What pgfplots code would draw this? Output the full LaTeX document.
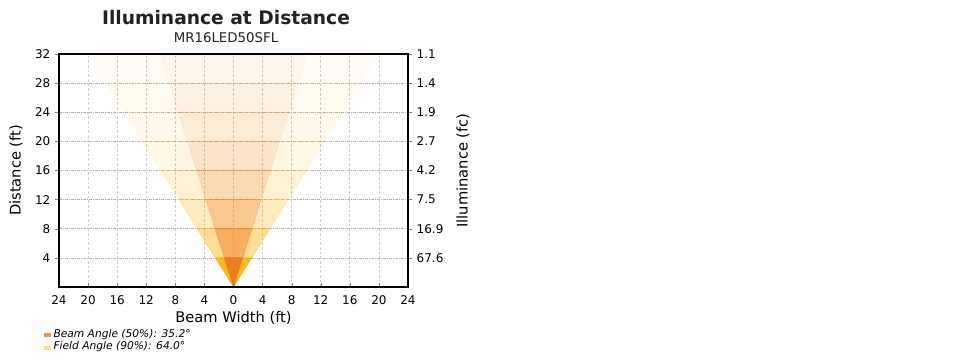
\documentclass[border=0pt]{standalone}
\usepackage{pgfplots}
\pgfplotsset{compat=1.18}
\usepackage{fontspec}
\setmainfont{DejaVu Sans}
\definecolor{fieldc}{HTML}{FFB000}
\definecolor{beamc}{HTML}{EC7722}
\definecolor{txt}{HTML}{222222}
\begin{document}
\begin{tikzpicture}[x=0.75pt,y=0.75pt]
\useasboundingbox (0,0) rectangle (960,360);
\pgfplotsset{
  common/.style={
    at={(44.25pt,54.75pt)}, anchor=south west,
    scale only axis, width=261.75pt, height=174.75pt,
    xmin=-24, xmax=24, ymin=0, ymax=32,
    xtick={-24,-20,...,24}, ytick={4,8,...,32},
    major tick length=3pt,
    /pgf/number format/assume math mode=true,
    tick label style={font=\fontsize{9}{10}\selectfont},
    axis line style={line width=1.1pt},
    clip=false,
  }
}
\begin{axis}[common,
  tick align=outside, ytick pos=left, xtick pos=bottom,
  xtick style={draw=none},
  xticklabels={24,20,16,12,8,4,0,4,8,12,16,20,24},
  grid=major,
  x grid style={gray!40, line width=0.5pt, dash pattern=on 2pt off 1.5pt},
  y grid style={gray!60, line width=0.5pt, dash pattern=on 2pt off 1pt on 0.5pt off 1pt},
  xlabel={Beam Width (ft)}, ylabel={Distance (ft)},
  label style={font=\fontsize{11}{13}\selectfont},
  xlabel style={at={(axis description cs:0.5,-0.133)}, anchor=center},
  ylabel style={at={(axis description cs:-0.123,0.5)}, anchor=center},
  legend style={at={(axis description cs:-0.045,-0.168)}, anchor=north west,
    draw=none, fill=none, font=\fontsize{8}{9}\selectfont\itshape,
    row sep=-2.5pt, inner sep=0pt},
  legend cell align=left,
  legend image code/.code={\fill[#1] (0pt,-2.5pt) rectangle (5.5pt,0.5pt);},
]
% Field angle bands (64.0 deg)
\addplot[forget plot, fill=fieldc, draw=fieldc, line width=0.4pt, opacity=0.9] coordinates {(0,0) (2.4995,4) (-2.4995,4)} -- cycle;
\addplot[forget plot, fill=fieldc, draw=fieldc, line width=0.4pt, opacity=0.42] coordinates {(-2.4995,4) (2.4995,4) (4.9990,8) (-4.9990,8)} -- cycle;
\addplot[forget plot, fill=fieldc, draw=fieldc, line width=0.4pt, opacity=0.26] coordinates {(-4.9990,8) (4.9990,8) (7.4984,12) (-7.4984,12)} -- cycle;
\addplot[forget plot, fill=fieldc, draw=fieldc, line width=0.4pt, opacity=0.17] coordinates {(-7.4984,12) (7.4984,12) (9.9979,16) (-9.9979,16)} -- cycle;
\addplot[forget plot, fill=fieldc, draw=fieldc, line width=0.4pt, opacity=0.11] coordinates {(-9.9979,16) (9.9979,16) (12.4974,20) (-12.4974,20)} -- cycle;
\addplot[forget plot, fill=fieldc, draw=fieldc, line width=0.4pt, opacity=0.08] coordinates {(-12.4974,20) (12.4974,20) (14.9969,24) (-14.9969,24)} -- cycle;
\addplot[forget plot, fill=fieldc, draw=fieldc, line width=0.4pt, opacity=0.055] coordinates {(-14.9969,24) (14.9969,24) (17.4964,28) (-17.4964,28)} -- cycle;
\addplot[forget plot, fill=fieldc, draw=fieldc, line width=0.4pt, opacity=0.04] coordinates {(-17.4964,28) (17.4964,28) (19.9958,32) (-19.9958,32)} -- cycle;
% Beam angle bands (35.2 deg)
\addplot[forget plot, fill=beamc, draw=beamc, line width=0.4pt, opacity=0.9] coordinates {(0,0) (1.2689,4) (-1.2689,4)} -- cycle;
\addplot[forget plot, fill=beamc, draw=beamc, line width=0.4pt, opacity=0.45] coordinates {(-1.2689,4) (1.2689,4) (2.5378,8) (-2.5378,8)} -- cycle;
\addplot[forget plot, fill=beamc, draw=beamc, line width=0.4pt, opacity=0.3] coordinates {(-2.5378,8) (2.5378,8) (3.8066,12) (-3.8066,12)} -- cycle;
\addplot[forget plot, fill=beamc, draw=beamc, line width=0.4pt, opacity=0.2] coordinates {(-3.8066,12) (3.8066,12) (5.0755,16) (-5.0755,16)} -- cycle;
\addplot[forget plot, fill=beamc, draw=beamc, line width=0.4pt, opacity=0.14] coordinates {(-5.0755,16) (5.0755,16) (6.3444,20) (-6.3444,20)} -- cycle;
\addplot[forget plot, fill=beamc, draw=beamc, line width=0.4pt, opacity=0.1] coordinates {(-6.3444,20) (6.3444,20) (7.6133,24) (-7.6133,24)} -- cycle;
\addplot[forget plot, fill=beamc, draw=beamc, line width=0.4pt, opacity=0.07] coordinates {(-7.6133,24) (7.6133,24) (8.8822,28) (-8.8822,28)} -- cycle;
\addplot[forget plot, fill=beamc, draw=beamc, line width=0.4pt, opacity=0.05] coordinates {(-8.8822,28) (8.8822,28) (10.1510,32) (-10.1510,32)} -- cycle;
\addlegendimage{fill=beamc!80!white, draw=none}
\addlegendentry{Beam Angle (50\%): 35.2°}
\addlegendimage{fill=fieldc!45!white, draw=none}
\addlegendentry{Field Angle (90\%): 64.0°}
\node[font=\fontsize{14}{16}\selectfont\bfseries, text=txt] at (axis description cs:0.4785,1.1545) {Illuminance at Distance};
\node[font=\fontsize{10}{12}\selectfont, text=txt] at (axis description cs:0.4785,1.0687) {MR16LED50SFL};
\end{axis}
\begin{axis}[common,
  tick align=outside, ytick pos=right, xtick pos=bottom,
  xtick style={yshift=3pt},
  xticklabels={},
  yticklabels={67.6,16.9,7.5,4.2,2.7,1.9,1.4,1.1},
  ylabel={Illuminance (fc)},
  label style={font=\fontsize{11}{13}\selectfont},
  ylabel style={at={(axis description cs:1.158,0.5)}, anchor=center},
]
\end{axis}
\end{tikzpicture}
\end{document}
